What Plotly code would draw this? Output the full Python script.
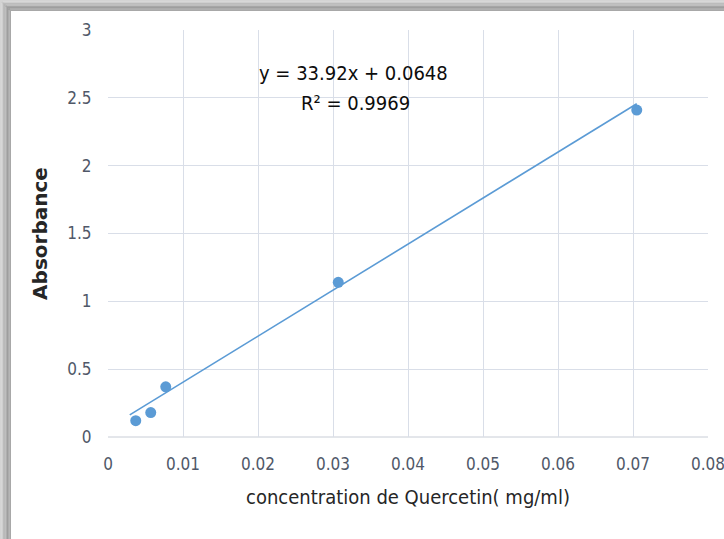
import plotly.graph_objects as go

# Data
conc = [0.0037, 0.0057, 0.0077, 0.0307, 0.0705]
absorbance = [0.12, 0.18, 0.37, 1.14, 2.41]
slope = 33.92
intercept = 0.0648
r2 = 0.9969
x_ticks = [0, 0.01, 0.02, 0.03, 0.04, 0.05, 0.06, 0.07, 0.08]
x_tick_labels = ["0", "0.01", "0.02", "0.03", "0.04", "0.05", "0.06", "0.07", "0.08"]
y_ticks = [0, 0.5, 1, 1.5, 2, 2.5, 3]
y_tick_labels = ["0", "0.5", "1", "1.5", "2", "2.5", "3"]

W, H = 724, 539
L, R, T, B = 108, 16, 30, 102
pw, ph = W - L - R, H - T - B

blue = "#5B9BD5"
font_fam = "DejaVu Sans Condensed, Roboto, Arial"
tick_col = "#505868"

trend_x = [min(conc) - 0.0008, max(conc)]
trend_y = [slope * v + intercept for v in trend_x]

fig = go.Figure()
fig.add_trace(go.Scatter(x=trend_x, y=trend_y, mode="lines",
                         line=dict(color=blue, width=1.6), hoverinfo="skip",
                         showlegend=False))
fig.add_trace(go.Scatter(x=conc, y=absorbance, mode="markers",
                         marker=dict(color=blue, size=11, symbol="circle"),
                         showlegend=False))

fig.add_annotation(x=0.0327, y=2.68, xref="x", yref="y",
                   text=f"y = {slope}x + {intercept}", showarrow=False,
                   font=dict(family=font_fam, size=20, color="#0d0d0d"))
fig.add_annotation(x=0.0330, y=2.46, xref="x", yref="y",
                   text=f"R² = {r2}", showarrow=False,
                   font=dict(family=font_fam, size=20, color="#0d0d0d"))

def px2paper_x(p):
    return (p - L) / pw

def px2paper_y(p):
    return (H - B - p) / ph

# grey shadow frame at top and left (lighter outside, darker inside)
greys = ["#d4d4d4", "#c8c8c8", "#bcbcbc", "#b0b0b0", "#a6a6a6", "#9e9e9e", "#989898", "#a8a8a8"]
n = len(greys)
band = 11
shapes = []
for i, g in enumerate(greys):
    shapes.append(dict(type="rect", xref="paper", yref="paper",
                       x0=px2paper_x(band * i / n), x1=px2paper_x(W),
                       y0=px2paper_y(band * (i + 1) / n), y1=px2paper_y(band * i / n),
                       fillcolor=g, line=dict(width=0), layer="above"))
    shapes.append(dict(type="rect", xref="paper", yref="paper",
                       x0=px2paper_x(band * i / n), x1=px2paper_x(band * (i + 1) / n),
                       y0=px2paper_y(H), y1=px2paper_y(band * i / n),
                       fillcolor=g, line=dict(width=0), layer="above"))
shapes.append(dict(type="line", xref="paper", yref="paper", x0=0, x1=1, y0=0, y1=0,
                   line=dict(color="#C8CDD6", width=1), layer="below"))

fig.update_layout(
    width=W, height=H,
    shapes=shapes,
    margin=dict(l=L, r=R, t=T, b=B, autoexpand=False),
    paper_bgcolor="white", plot_bgcolor="white",
    font=dict(family=font_fam, color=tick_col, size=16),
    xaxis=dict(range=[0, 0.08], tickvals=x_ticks, ticktext=x_tick_labels,
               showgrid=True, gridcolor="#D9DEE8", gridwidth=1,
               zeroline=False, showline=False, automargin=False,
               ticklabeloverflow="allow",
               ticks="outside", ticklen=12, tickcolor="rgba(0,0,0,0)",
               tickfont=dict(size=17, color=tick_col),
               title=dict(text="concentration de Quercetin( mg/ml)",
                          font=dict(size=20, color="#262626"), standoff=16)),
    yaxis=dict(range=[0, 3], tickvals=y_ticks, ticktext=y_tick_labels,
               showgrid=True, gridcolor="#D9DEE8", gridwidth=1,
               zeroline=False, showline=False, automargin=False,
               ticks="outside", ticklen=12, tickcolor="rgba(0,0,0,0)",
               tickfont=dict(size=17, color=tick_col),
               title=dict(text="<b>Absorbance</b>",
                          font=dict(family="DejaVu Sans, Arial", size=20, color="#262626"),
                          standoff=14)),
)

fig.write_html("out.html")
